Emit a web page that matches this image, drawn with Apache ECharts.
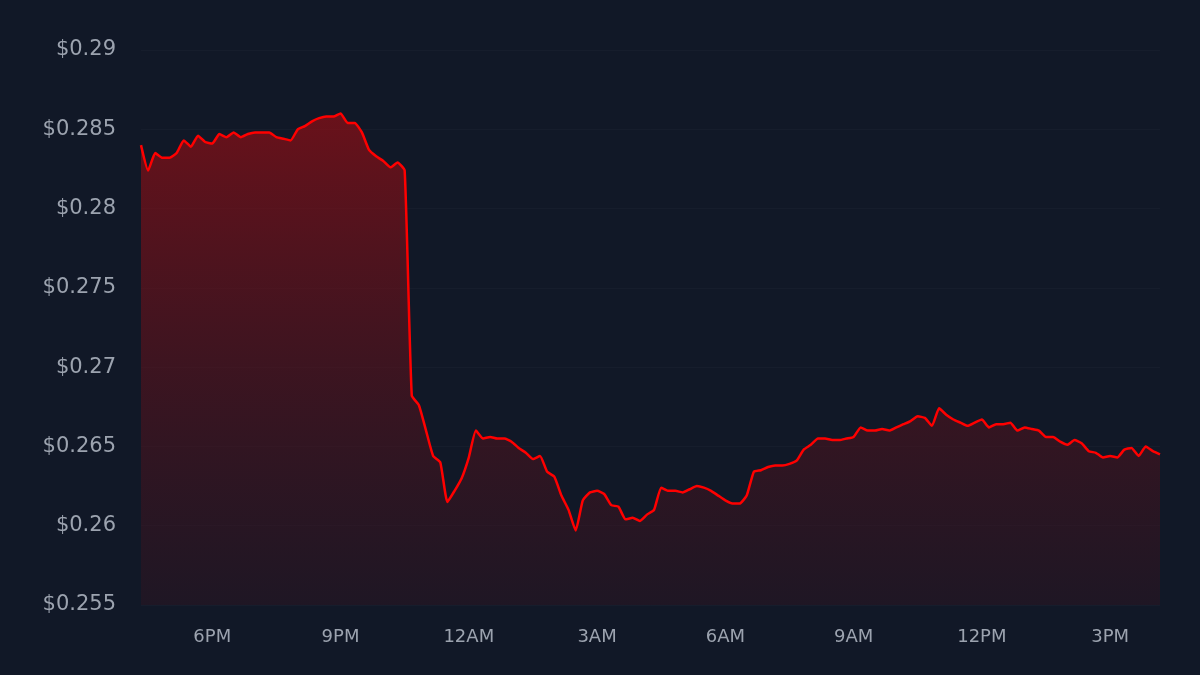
<!DOCTYPE html>
<html><head><meta charset="utf-8">
<script src="https://cdn.jsdelivr.net/npm/echarts@6/dist/echarts.min.js"></script>
<style>html,body{margin:0;background:#111827}#c{width:1200px;height:675px}</style>
</head><body><div id="c"></div>
<script>
// minutes relative to 6PM, 10-minute steps starting at 4:20PM
const startMinute = -100;
const stepMinutes = 10;
const prices = [
0.2840,0.2824,0.2835,0.2832,0.2832,0.2835,0.2843,0.2839,0.2846,0.2842,
0.2841,0.2847,0.2845,0.2848,0.2845,0.2847,0.2848,0.2848,0.2848,0.2845,
0.2844,0.2843,0.2850,0.2852,0.2855,0.2857,0.2858,0.2858,0.2860,0.2854,
0.2854,0.2848,0.2837,0.2833,0.2830,0.2826,0.2829,0.2824,0.2682,0.2676,
0.2660,0.2644,0.2640,0.2615,0.2622,0.2630,0.2643,0.2660,0.2655,0.2656,
0.2655,0.2655,0.2653,0.2649,0.2646,0.2642,0.2644,0.2634,0.2631,0.2619,
0.2610,0.2597,0.2616,0.2621,0.2622,0.2620,0.2613,0.2612,0.2604,0.2605,
0.2603,0.2607,0.2610,0.2624,0.2622,0.2622,0.2621,0.2623,0.2625,0.2624,
0.2622,0.2619,0.2616,0.2614,0.2614,0.2619,0.2634,0.2635,0.2637,0.2638,
0.2638,0.2639,0.2641,0.2648,0.2651,0.2655,0.2655,0.2654,0.2654,0.2655,
0.2656,0.2662,0.2660,0.2660,0.2661,0.2660,0.2662,0.2664,0.2666,0.2669,
0.2668,0.2663,0.2674,0.2670,0.2667,0.2665,0.2663,0.2665,0.2667,0.2662,
0.2664,0.2664,0.2665,0.2660,0.2662,0.2661,0.2660,0.2656,0.2656,0.2653,
0.2651,0.2654,0.2652,0.2647,0.2646,0.2643,0.2644,0.2643,0.2648,0.2649,
0.2644,0.2650,0.2647,0.2645
];
const tickMinutes = [0,180,360,540,720,900,1080,1260];
const tickLabels = ['6PM','9PM','12AM','3AM','6AM','9AM','12PM','3PM'];

const data = prices.map((p,i)=>[startMinute + i*stepMinutes, p]);
const endMinute = startMinute + (prices.length-1)*stepMinutes;
const chart = echarts.init(document.getElementById('c'));
chart.setOption({
  backgroundColor:'#111827',
  animation:false,
  grid:{left:141,right:40,top:50,bottom:70},
  xAxis:{type:'value',min:startMinute,max:endMinute,
    axisLine:{show:false},axisTick:{show:false,customValues:tickMinutes},
    splitLine:{show:false},
    axisLabel:{customValues:tickMinutes,color:'#9ca3af',fontSize:18,margin:23,fontFamily:'DejaVu Sans',
      formatter:v=>tickLabels[tickMinutes.indexOf(v)]||''}},
  yAxis:{type:'value',min:0.255,max:0.29,interval:0.005,
    axisLine:{show:false},axisTick:{show:false},
    splitLine:{lineStyle:{color:'rgba(255,255,255,0.025)'}},
    axisLabel:{color:'#9ca3af',fontSize:21,margin:25,fontFamily:'DejaVu Sans',
      formatter:v=>'$'+(+v.toFixed(3)).toString()}},
  series:[{type:'line',data:data,showSymbol:false,smooth:0.15,
    lineStyle:{color:'#ff0000',width:2.5},
    areaStyle:{color:new echarts.graphic.LinearGradient(0,0,0,1,[
      {offset:0,color:'rgba(150,14,20,0.95)'},
      {offset:1,color:'rgba(50,20,32,0.6)'}])}}]
});
</script></body></html>
